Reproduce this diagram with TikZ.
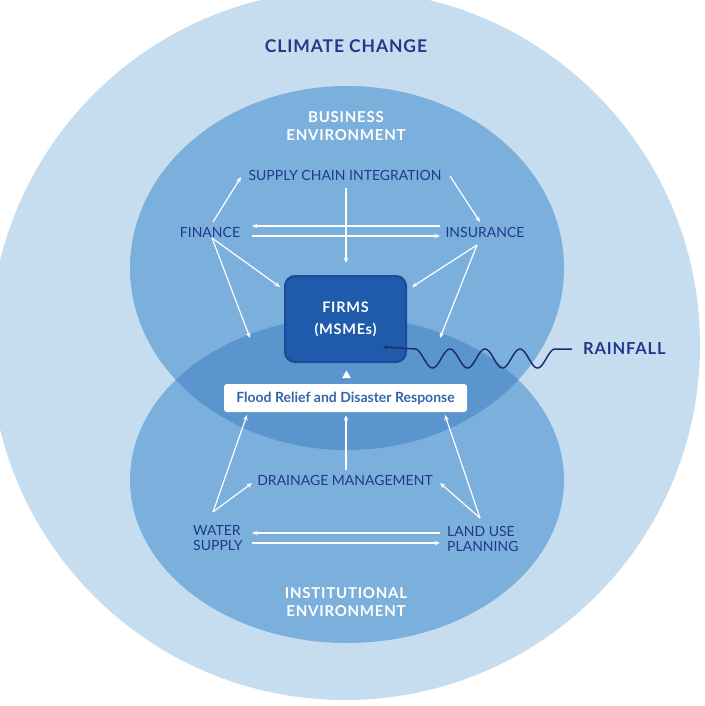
\documentclass[tikz,border=0pt]{standalone}
\usepackage{fontspec}
\setmainfont{Lato}
\newfontfamily\trk{Lato}[LetterSpace=5]
\usetikzlibrary{arrows.meta,calc,shapes.geometric}
\definecolor{outerc}{HTML}{C6DDF0}
\definecolor{ellc}{HTML}{7BAFDC}
\definecolor{ovc}{HTML}{5B95CD}
\definecolor{firmc}{HTML}{1F5AAB}
\definecolor{firmedge}{HTML}{194C98}
\definecolor{navy}{HTML}{22398B}
\definecolor{floodc}{HTML}{3466AD}
\definecolor{wavec}{HTML}{1C2F6E}
\begin{document}
\begin{tikzpicture}[x=1pt,y=-1pt,
  lbl/.style={text=navy, font=\fontsize{14}{15}\selectfont, inner sep=0pt, align=center},
  envt/.style={text=white, font=\trk\bfseries\fontsize{15}{18}\selectfont, inner sep=0pt, align=center},
  titlet/.style={text=navy, font=\trk\bfseries\fontsize{17.5}{20}\selectfont, inner sep=0pt},
  raint/.style={text=navy, font=\trk\bfseries\fontsize{16.5}{20}\selectfont, inner sep=0pt, anchor=west},
  firmbox/.style={fill=firmc, draw=firmedge, line width=2pt, rounded corners=10pt,
    minimum width=121pt, minimum height=86pt,
    text=white, font=\trk\bfseries\fontsize{14.5}{22}\selectfont, align=center, inner sep=0pt},
  floodbox/.style={fill=white, rounded corners=3pt, minimum width=243pt, minimum height=28pt,
    text=floodc, font=\bfseries\fontsize{14}{16}\selectfont, inner sep=0pt},
  tri/.style={fill=white, regular polygon, regular polygon sides=3, minimum size=10pt, inner sep=0pt},
  wa/.style={white, line width=1.2pt, -{Stealth[length=5.5pt,width=4.5pt]}},
  wave/.style={wavec, line width=1.5pt, line join=round, -{Stealth[length=4.5pt,width=4pt]}}
]
\useasboundingbox (0,0) rectangle (704,706);
\fill[white] (0,0) rectangle (704,706);
% climate change circle
\fill[outerc] (345,345) circle [radius=355pt];
% environments
\fill[ellc] (347,268) ellipse [x radius=217pt, y radius=182pt];
\fill[ellc] (347,480) ellipse [x radius=217pt, y radius=163pt];
\begin{scope}
  \clip (347,268) ellipse [x radius=217pt, y radius=182pt];
  \fill[ovc] (347,480) ellipse [x radius=217pt, y radius=163pt];
\end{scope}

% texts
\node[titlet] (cc) at (346,46) {CLIMATE CHANGE};
\node[envt] (be) at (346,126) {BUSINESS\\ENVIRONMENT};
\node[envt] (ie) at (346,602) {INSTITUTIONAL\\ENVIRONMENT};
\node[lbl] (sci) at (345,175) {SUPPLY CHAIN INTEGRATION};
\node[lbl] (fin) at (210,232) {FINANCE};
\node[lbl] (ins) at (485,232) {INSURANCE};
\node[lbl] (dm) at (345,480) {DRAINAGE MANAGEMENT};
\node[lbl, align=left, anchor=west] (ws) at (193,538.5) {WATER\\SUPPLY};
\node[lbl, align=left, anchor=west] (lu) at (447,538.5) {LAND USE\\PLANNING};
\node[firmbox] (firms) at (345.5,319) {FIRMS\\(MSMEs)};
\node[floodbox] (flood) at (345.5,398) {Flood Relief and Disaster Response};
\node[tri] (tri) at (346.5,375.5) {};
\node[raint] (rain) at (583,349) {RAINFALL};

% free ends
\coordinate (finD) at (250,338);
\coordinate (insD) at (440,338);

% business environment arrows
\draw[wa] ($(fin.center)+(3,-10)$) -- ($(sci.center)+(-104,2)$);
\draw[wa] ($(sci.center)+(105,1)$) -- ($(ins.center)+(-5,-10)$);
\draw[wa] ($(sci.center)+(1,13)$) -- ($(firms.north)+(0.5,-12)$);
\draw[wa] ($(ins.center)+(-45,-6)$) -- ($(fin.center)+(42,-6)$);
\draw[wa] ($(fin.center)+(42,4)$) -- ($(ins.center)+(-45,4)$);
\draw[wa] ($(fin.center)+(2,6)$) -- ($(firms.center)+(-65.5,-32)$);
\draw[wa] ($(fin.center)+(2,6)$) -- (finD);
\draw[wa] ($(ins.center)+(-8,13)$) -- ($(firms.center)+(66.5,-32)$);
\draw[wa] ($(ins.center)+(-8,13)$) -- (insD);

% institutional environment arrows
\draw[wa] ($(ws.west)+(20,-26.5)$) -- ($(flood.center)+(-98.5,17)$);
\draw[wa] ($(ws.west)+(20,-26.5)$) -- ($(dm.center)+(-93,3)$);
\draw[wa] ($(dm.center)+(1,-10)$) -- ($(flood.south)+(0.5,3)$);
\draw[wa] ($(lu.west)+(33,-20.5)$) -- ($(flood.center)+(99.5,17)$);
\draw[wa] ($(lu.west)+(33,-20.5)$) -- ($(dm.center)+(95,3)$);
\draw[wa] ($(lu.west)+(-7,-5.5)$) -- ($(ws.west)+(59,-5.5)$);
\draw[wa] ($(ws.west)+(59,4.5)$) -- ($(lu.west)+(-7,4.5)$);

% rainfall
\draw[wave] ($(rain.west)+(-11,0)$) -- (555,349)
  -- plot[domain=0:4, samples=160] ({555-35*\x},{358.5-9.5*cos(360*\x)})
  -- (415,349) -- ($(firms.center)+(37.5,28)$);
\end{tikzpicture}
\end{document}
